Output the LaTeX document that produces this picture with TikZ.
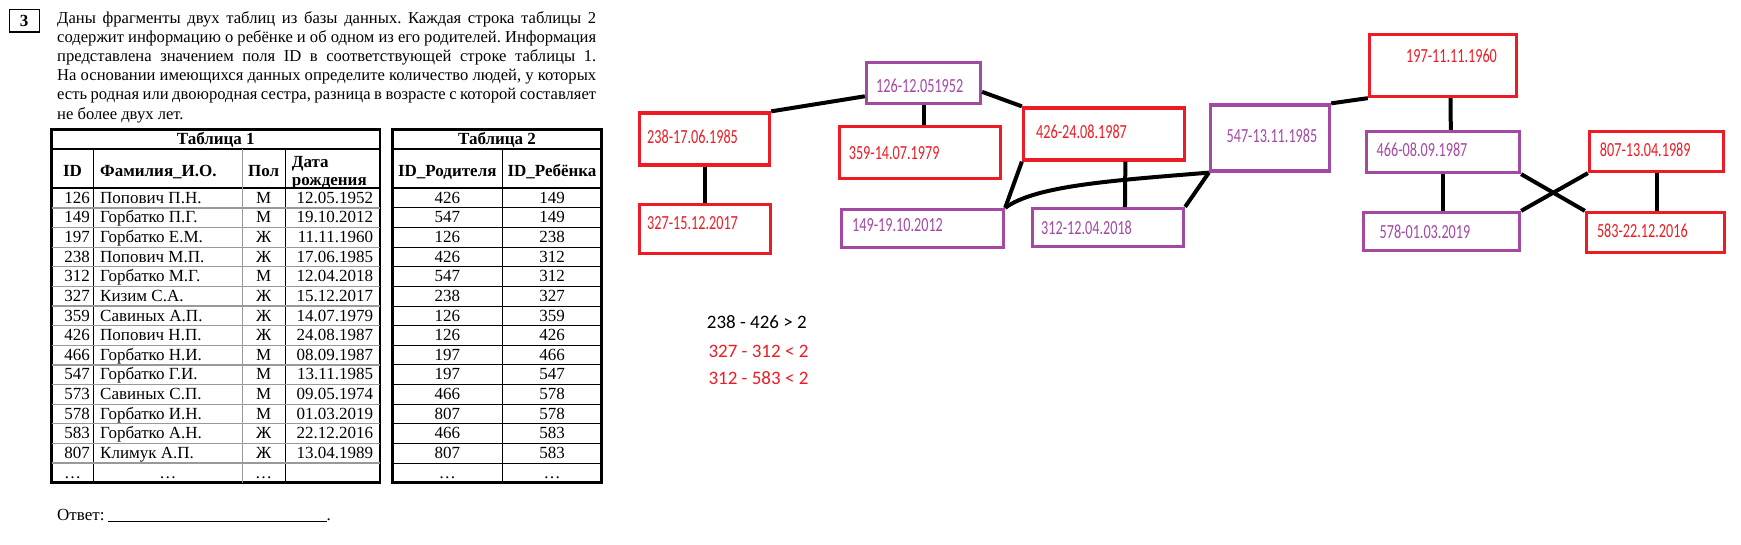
\documentclass[tikz,border=0pt]{standalone}
\usepackage{fontspec}
\setmainfont{Liberation Serif}
\newfontfamily\paintfont[FakeStretch=0.71]{Carlito}
\newfontfamily\notefont{Carlito}
\usetikzlibrary{calc}
\definecolor{paintred}{RGB}{237,28,36}
\definecolor{paintpurple}{RGB}{163,73,164}
\newcommand\jline[1]{\hbox to 539pt{\spaceskip=0.25em plus 0.5em minus 0.12em #1}}
\frenchspacing

\begin{document}
\begin{tikzpicture}[x=1pt,y=-1pt]
        \tikzset{
        rbox/.style={draw=paintred, line width=3.3pt, inner sep=0pt},
        pbox/.style={draw=paintpurple, line width=3.3pt, inner sep=0pt},
        rtxt/.style={anchor=west, inner sep=0pt, text=paintred,
        font=\paintfont\fontsize{20}{22}\selectfont},
        ptxt/.style={rtxt, text=paintpurple},
        note/.style={anchor=west, inner sep=0pt, font=\notefont\fontsize{19}{21}\selectfont},
        link/.style={line width=4pt, black},
        cell/.style={anchor=base, inner sep=0pt, font=\fontsize{17}{19}\selectfont},
        hcell/.style={cell, font=\bfseries\fontsize{17}{19}\selectfont},
        thin/.style={line width=1pt},
        grayline/.style={line width=1.3pt, black!40}
        }
        \fill[white] (0,0) rectangle (1741,544);
        \useasboundingbox (0,0) rectangle (1741,544);

        % task text
        \node[draw, line width=1pt, minimum width=30pt, minimum height=21.7pt, inner sep=0pt,
        font=\bfseries\fontsize{17}{19}\selectfont] (num) at (24.2,20.8) {3};
        \draw[line width=1pt] (num.north east) -- (num.south east) -- (num.south west);
        \node[anchor=base west, inner sep=0pt, font=\fontsize{16.6}{19.2}\selectfont] (task) at (57,23)
        {\parbox[t]{539pt}{%
        \jline{Даны фрагменты двух таблиц из базы данных. Каждая строка таблицы 2}
        \jline{содержит информацию о ребёнке и об одном из его родителей. Информация}
        \jline{представлена значением поля ID в соответствующей строке таблицы 1.}
        \jline{На основании имеющихся данных определите количество людей, у которых}
        \jline{есть родная или двоюродная сестра, разница в возрасте с которой составляет}
        \hbox{не более двух лет.}}};

        % table 1
        \draw[line width=2.5pt] (51.7,129.3) rectangle (380,482.7);
        \draw[line width=2pt] (51.7,149.3) -- (380,149.3) (51.7,188.3) -- (380,188.3);
        \foreach \xx in {93.3,285}
          \draw[thin] (\xx,149.3) -- (\xx,482.7);
        \draw[grayline] (242.3,149.3) -- (242.3,482.7);
        \foreach \r in {1,...,14}
          \draw[grayline] (51.7,{188.3+19.627*\r}) -- (380,{188.3+19.627*\r});
        \node[hcell] (cap1) at (215.8,144.5) {Таблица 1};
        \node[hcell] (hid) at (72.5,176) {ID};
        \node[hcell, anchor=base west] (hfio) at (100,176) {Фамилия\_И.О.};
        \node[hcell] (hpol) at (263.7,176) {Пол};
        \node[hcell, anchor=base west] (hdat) at (291.7,167) {Дата};
        \node[hcell, anchor=base west] (hdat2) at (291.7,185) {рождения};
        \foreach \id/\fio/\pol/\dat [count=\r] in {
          126/Попович П.Н./М/12.05.1952, 149/Горбатко П.Г./М/19.10.2012,
          197/Горбатко Е.М./Ж/11.11.1960, 238/Попович М.П./Ж/17.06.1985,
          312/Горбатко М.Г./М/12.04.2018, 327/Кизим С.А./Ж/15.12.2017,
          359/Савиных А.П./Ж/14.07.1979, 426/Попович Н.П./Ж/24.08.1987,
          466/Горбатко Н.И./М/08.09.1987, 547/Горбатко Г.И./М/13.11.1985,
          573/Савиных С.П./М/09.05.1974, 578/Горбатко И.Н./М/01.03.2019,
          583/Горбатко А.Н./Ж/22.12.2016, 807/Климук А.П./Ж/13.04.1989} {
          \node[cell, anchor=base east] (id\r) at (90,{188.3+19.627*\r-4.6}) {\id};
          \node[cell, anchor=base west] (fio\r) at (100,{188.3+19.627*\r-4.6}) {\fio};
          \node[cell] (pol\r) at (263.7,{188.3+19.627*\r-4.6}) {\pol};
          \node[cell, anchor=base east] (dat\r) at (373.3,{188.3+19.627*\r-4.6}) {\dat};
        }
        \node[cell] (id15) at (72.5,478.1) {…};
        \node[cell] (fio15) at (167.8,478.1) {…};
        \node[cell] (pol15) at (263.7,478.1) {…};

        % table 2
        \draw[line width=2.5pt] (392.3,129.3) rectangle (601.7,482.7);
        \draw[line width=2pt] (392.3,149.3) -- (601.7,149.3) (392.3,188.3) -- (601.7,188.3);
        \draw[thin] (502.3,149.3) -- (502.3,482.7);
        \foreach \r in {1,...,14}
          \draw[thin] (392.3,{188.3+19.627*\r}) -- (601.7,{188.3+19.627*\r});
        \node[hcell] (cap2) at (497,144.5) {Таблица 2};
        \node[hcell] (hpar) at (447.3,176) {ID\_Родителя};
        \node[hcell] (hchi) at (552,176) {ID\_Ребёнка};
        \foreach \pid/\cid [count=\r] in {426/149, 547/149, 126/238, 426/312, 547/312,
          238/327, 126/359, 126/426, 197/466, 197/547, 466/578, 807/578, 466/583, 807/583} {
          \node[cell] (pid\r) at (447.3,{188.3+19.627*\r-4.6}) {\pid};
          \node[cell] (cid\r) at (552,{188.3+19.627*\r-4.6}) {\cid};
        }
        \node[cell] (pid15) at (447.3,478.1) {…};
        \node[cell] (cid15) at (552,478.1) {…};

        \node[cell, anchor=base west] (answer) at (57,520)
        {Ответ:\kern3pt\rule[-2pt]{219pt}{0.8pt}.};

        % family tree
        \node[pbox, minimum width=114pt, minimum height=41pt] (n126) at (923.5,83) {};
        \node[rbox, minimum width=130pt, minimum height=52pt] (n238) at (704.5,139) {};
        \node[rbox, minimum width=161pt, minimum height=52pt] (n359) at (920,152.5) {};
        \node[rbox, minimum width=161pt, minimum height=52pt] (n426) at (1104,134) {};
        \node[rbox, minimum width=131pt, minimum height=49pt] (n327) at (705,229) {};
        \node[pbox, minimum width=162pt, minimum height=38pt] (n149) at (922.5,228.5) {};
        \node[pbox, minimum width=151pt, minimum height=38pt] (n312) at (1108,227.5) {};
        \node[pbox, minimum width=119pt, minimum height=66pt] (n547) at (1270,138) {};
        \node[rbox, minimum width=147pt, minimum height=62pt] (n197) at (1443,65.5) {};
        \node[pbox, minimum width=153pt, minimum height=41pt] (n466) at (1443,152) {};
        \node[pbox, minimum width=156pt, minimum height=38pt] (n578) at (1441.5,231.5) {};
        \node[rbox, minimum width=134pt, minimum height=40pt] (n807) at (1656.5,151.5) {};
        \node[rbox, minimum width=138pt, minimum height=40pt] (n583) at (1655.5,232.5) {};

        \node[ptxt] (t126) at (876,86) {126-12.051952};
        \node[rtxt] (t238) at (647,137) {238-17.06.1985};
        \node[rtxt] (t359) at (848.6,152.7) {359-14.07.1979};
        \node[rtxt] (t426) at (1036,131.7) {426-24.08.1987};
        \node[rtxt] (t327) at (647,223) {327-15.12.2017};
        \node[ptxt] (t149) at (852,225) {149-19.10.2012};
        \node[ptxt] (t312) at (1041,227.3) {312-12.04.2018};
        \node[ptxt] (t547) at (1226.4,136) {547-13.11.1985};
        \node[rtxt] (t197) at (1406,56) {197-11.11.1960};
        \node[ptxt] (t466) at (1376.5,149.5) {466-08.09.1987};
        \node[ptxt] (t578) at (1379.4,232) {578-01.03.2019};
        \node[rtxt] (t807) at (1599.7,149.5) {807-13.04.1989};
        \node[rtxt] (t583) at (1596.8,231) {583-22.12.2016};

        \draw[link] ($(n126.west)!.6!(n126.south west)$) -- (n238.north east);
        \draw[link] (n126.south) -- (n126.south |- n359.north);
        \draw[link] ($(n126.east)!.4!(n126.south east)$) -- (n426.north west);
        \draw[link] (n238.south) -- (n238.south |- n327.north);
        \draw[link] (n426.south west) -- (n149.north east);
        \draw[link] (n149.north east) .. controls +(30,-22) and +(-99,8) .. (n547.south west);
        \draw[link] ($(n426.south west)!.63!(n426.south east)$) -- ($(n312.north west)!.61!(n312.north east)$);
        \draw[link] (n312.north east) -- (n547.south west);
        \draw[link] (n547.north east) -- (n197.south west);
        \draw[link] ($(n197.south west)!.55!(n197.south east)$) -- ($(n466.north west)!.55!(n466.north east)$);
        \draw[link] (n466.south) -- (n466.south |- n578.north);
        \draw[link] (n466.south east) -- (n583.north west);
        \draw[link] (n807.south west) -- (n578.north east);
        \draw[link] (n807.south) -- (n807.south |- n583.north);

        % notes
        \node[note] (eq1) at (706.7,322.3) {238 - 426 > 2};
        \node[note, text=paintred] (eq2) at (708.3,351.7) {327 - 312 < 2};
        \node[note, text=paintred] (eq3) at (708.3,378.3) {312 - 583 < 2};
\end{tikzpicture}
\end{document}
